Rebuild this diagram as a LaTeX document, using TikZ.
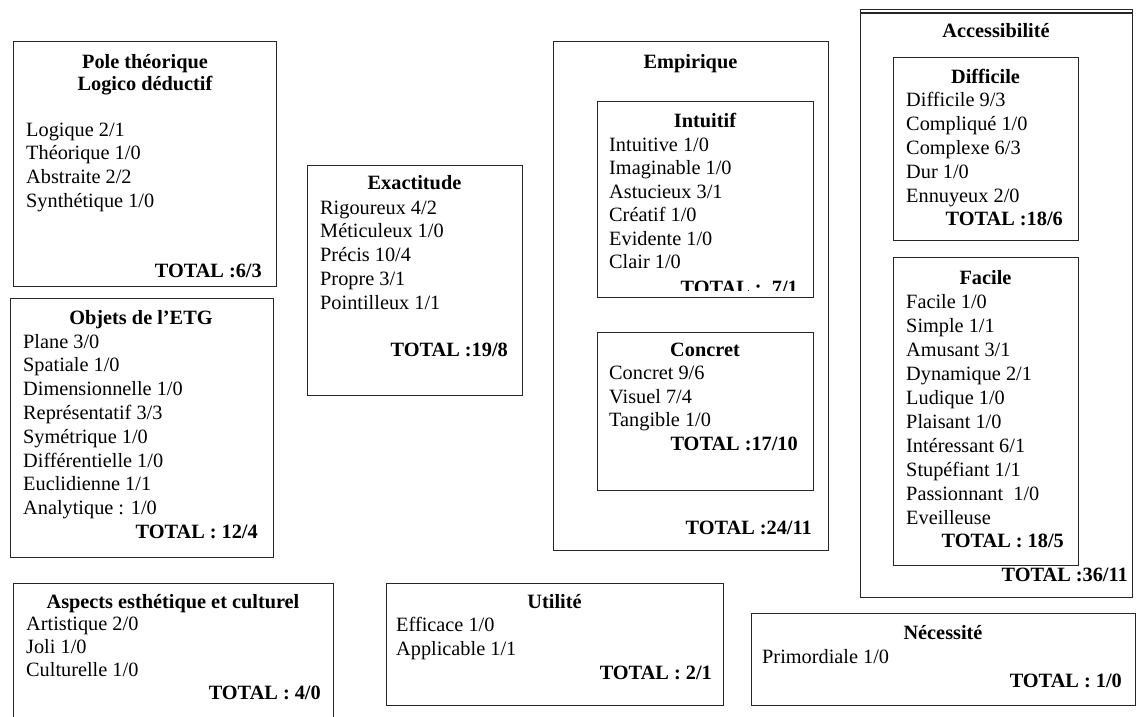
\documentclass[tikz,border=0pt]{standalone}
\usepackage{fontspec}
\setmainfont{Liberation Serif}[BoldFont={Liberation Serif Bold},ItalicFont={Liberation Serif Italic}]
\newcommand\myrm{\fontsize{20.3}{23.8}\selectfont}
\newcommand\mybf{\fontsize{20.3}{23.8}\selectfont\bfseries}
\tikzset{
  box/.style={draw=black!85, line width=1.1pt, anchor=north west, inner sep=0pt},
  txt/.style={anchor=base west, inner sep=0pt, font=\myrm},
  head/.style={anchor=base, inner sep=0pt, font=\mybf},
  tot/.style={anchor=base east, inner sep=0pt, font=\mybf}
}
\begin{document}
\begin{tikzpicture}[x=1pt,y=-1pt]
\useasboundingbox (0,0) rectangle (1137,716);
\clip (0,0) rectangle (1137,716);
\fill[white] (0,0) rectangle (1137,716);

% ---------- Pole theorique ----------
\node[box, minimum width=263pt, minimum height=245pt] (pole) at (13,41) {};
\node[head] (poleh1) at (145,68) {Pole théorique};
\node[head] (poleh2) at (145,90) {Logico déductif};
\node[txt] (pole1) at (26,136) {Logique 2/1};
\node[txt] (pole2) at (26,159.8) {Théorique 1/0};
\node[txt] (pole3) at (26,183.6) {Abstraite 2/2};
\node[txt] (pole4) at (26,207.4) {Synthétique 1/0};
\node[tot] (polet) at (262,277) {TOTAL :6/3};

% ---------- Objets de l'ETG ----------
\node[box, minimum width=263pt, minimum height=259pt] (obj) at (10,298) {};
\node[head] (objh) at (141,324) {Objets de l’ETG};
\node[txt] (obj1) at (23,348) {Plane 3/0};
\node[txt] (obj2) at (23,371.8) {Spatiale 1/0};
\node[txt] (obj3) at (23,395.6) {Dimensionnelle 1/0};
\node[txt] (obj4) at (23,419.4) {Représentatif 3/3};
\node[txt] (obj5) at (23,443.2) {Symétrique 1/0};
\node[txt] (obj6) at (23,467) {Différentielle 1/0};
\node[txt] (obj7) at (23,490.8) {Euclidienne 1/1};
\node[txt] (obj8) at (23,514.6) {Analytique : 1/0};
\node[tot] (objt) at (258,538.4) {TOTAL : 12/4};

% ---------- Exactitude ----------
\node[box, minimum width=215pt, minimum height=230pt] (exa) at (307,165) {};
\node[head] (exah) at (414.5,189) {Exactitude};
\node[txt] (exa1) at (320,214) {Rigoureux 4/2};
\node[txt] (exa2) at (320,237.8) {Méticuleux 1/0};
\node[txt] (exa3) at (320,261.6) {Précis 10/4};
\node[txt] (exa4) at (320,285.4) {Propre 3/1};
\node[txt] (exa5) at (320,309.2) {Pointilleux 1/1};
\node[tot] (exat) at (508,356) {TOTAL :19/8};

% ---------- Empirique ----------
\node[box, minimum width=275pt, minimum height=509pt] (emp) at (553,41) {};
\node[head] (emph) at (690.5,68) {Empirique};
\node[tot] (empt) at (812,534) {TOTAL :24/11};

\node[box, minimum width=216pt, minimum height=196pt] (int) at (597,101) {};
\node[head] (inth) at (705,127) {Intuitif};
\node[txt] (int1) at (609,151) {Intuitive 1/0};
\node[txt] (int2) at (609,174.5) {Imaginable 1/0};
\node[txt] (int3) at (609,198) {Astucieux 3/1};
\node[txt] (int4) at (609,221.5) {Créatif 1/0};
\node[txt] (int5) at (609,245) {Evidente 1/0};
\node[txt] (int6) at (609,268.5) {Clair 1/0};
\begin{scope}
\clip (597,101) rectangle (813,290.5);
\node[tot] (intt) at (798,294) {TOTAL :\ \ 7/1};
\end{scope}

\node[box, minimum width=216pt, minimum height=158pt] (con) at (597,332) {};
\node[head] (conh) at (705,356) {Concret};
\node[txt] (con1) at (609,379.5) {Concret 9/6};
\node[txt] (con2) at (609,403) {Visuel 7/4};
\node[txt] (con3) at (609,426.5) {Tangible 1/0};
\node[tot] (cont) at (798,450) {TOTAL :17/10};

% ---------- Accessibilite ----------
\node[box, minimum width=272pt, minimum height=588pt] (acc) at (860,9) {};
\draw[draw=black!85, line width=1.1pt] ([yshift=-4pt]acc.north west) -- ([yshift=-4pt]acc.north east);
\node[head] (acch) at (996,37) {Accessibilité};
\node[tot] (acct) at (1128,581) {TOTAL :36/11};

\node[box, minimum width=185pt, minimum height=183pt] (dif) at (893,57) {};
\node[head] (difh) at (985.5,83) {Difficile};
\node[txt] (dif1) at (906,106) {Difficile 9/3};
\node[txt] (dif2) at (906,130) {Compliqué 1/0};
\node[txt] (dif3) at (906,154) {Complexe 6/3};
\node[txt] (dif4) at (906,178) {Dur 1/0};
\node[txt] (dif5) at (906,202) {Ennuyeux 2/0};
\node[tot] (dift) at (1063,225) {TOTAL :18/6};

\node[box, minimum width=185pt, minimum height=308pt] (fac) at (893,257) {};
\node[head] (fach) at (985.5,284) {Facile};
\node[txt] (fac1) at (906,308) {Facile 1/0};
\node[txt] (fac2) at (906,332) {Simple 1/1};
\node[txt] (fac3) at (906,356) {Amusant 3/1};
\node[txt] (fac4) at (906,380) {Dynamique 2/1};
\node[txt] (fac5) at (906,404) {Ludique 1/0};
\node[txt] (fac6) at (906,428) {Plaisant 1/0};
\node[txt] (fac7) at (906,452) {Intéressant 6/1};
\node[txt] (fac8) at (906,476) {Stupéfiant 1/1};
\node[txt] (fac9) at (906,500) {Passionnant\ \ 1/0};
\node[txt] (fac10) at (906,524) {Eveilleuse};
\node[tot] (fact) at (1064,547) {TOTAL : 18/5};

% ---------- Aspects ----------
\node[box, minimum width=320pt, minimum height=160pt] (asp) at (13,583) {};
\node[head] (asph) at (173,608) {Aspects esthétique et culturel};
\node[txt] (asp1) at (26,630) {Artistique 2/0};
\node[txt] (asp2) at (26,653) {Joli 1/0};
\node[txt] (asp3) at (26,676) {Culturelle 1/0};
\node[tot] (aspt) at (321,699) {TOTAL : 4/0};

% ---------- Utilite ----------
\node[box, minimum width=337pt, minimum height=122pt] (uti) at (386,583) {};
\node[head] (utih) at (554.5,608) {Utilité};
\node[txt] (uti1) at (396,631) {Efficace 1/0};
\node[txt] (uti2) at (396,655) {Applicable 1/1};
\node[tot] (utit) at (712,679) {TOTAL : 2/1};

% ---------- Necessite ----------
\node[box, minimum width=384pt, minimum height=92pt] (nec) at (751,613) {};
\node[head] (nech) at (943,639) {Nécessité};
\node[txt] (nec1) at (762,663) {Primordiale 1/0};
\node[tot] (nect) at (1122,687) {TOTAL : 1/0};
\end{tikzpicture}
\end{document}
